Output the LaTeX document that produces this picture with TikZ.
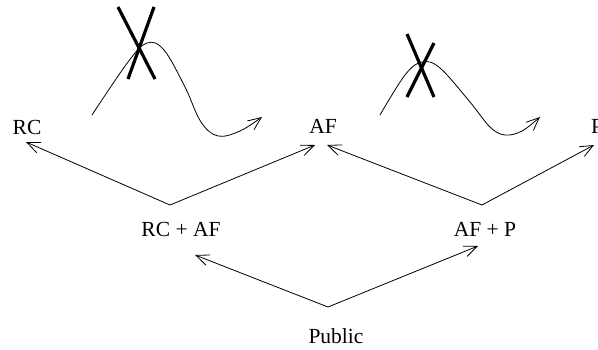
\documentclass[tikz,border=0pt]{standalone}
\usepackage{fontspec}
\setmainfont{Liberation Serif}
\usetikzlibrary{arrows.meta}
\tikzset{
  lbl/.style={inner sep=0pt, font=\fontsize{21.5}{25}\selectfont},
  arr/.style={line width=0.8pt, -{Straight Barb[length=13pt,width=11pt,line width=0.8pt]}},
  crossbar/.style={line width=3.2pt},
  wave/.style={line width=0.8pt, -{Straight Barb[length=13pt,width=11pt,line width=0.8pt]}}
}
\begin{document}
\begin{tikzpicture}[x=1pt,y=-1pt]
\useasboundingbox (0,0) rectangle (598,349);

% labels
\node[lbl] (rc)   at (27,127)  {RC};
\node[lbl] (af)   at (323,126) {AF};
\node[lbl,anchor=west] (p) at (591,126) {P};
\node[lbl] (rcaf) at (181,229) {RC + AF};
\node[lbl] (afp)  at (485,229) {AF + P};
\node[lbl] (pub)  at (336,336) {Public};

% arrow start and end points
\coordinate (rcafTop) at (170,205);
\coordinate (afpTop)  at (482,205);
\coordinate (pubTop)  at (328,307);
\coordinate (rcIn)    at (26,142);
\coordinate (afInL)   at (315,145);
\coordinate (afInR)   at (327,145);
\coordinate (pIn)     at (594,145);
\coordinate (rcafIn)  at (195,255);
\coordinate (afpIn)   at (478,246);

\draw[arr] (rcafTop) -- (rcIn);
\draw[arr] (rcafTop) -- (afInL);
\draw[arr] (afpTop) -- (afInR);
\draw[arr] (afpTop) -- (pIn);
\draw[arr] (pubTop) -- (rcafIn);
\draw[arr] (pubTop) -- (afpIn);

% left wave with cross
\draw[wave] plot[smooth, tension=0.6] coordinates
  {(92,115) (128,62) (147,43) (164,50) (185,87) (201,122) (218,136) (240,131) (262,117)};
\draw[crossbar] (118,7) -- (155,79);
\draw[crossbar] (154,7) -- (128,79);

% right wave with cross
\draw[wave] plot[smooth, tension=0.6] coordinates
  {(380,115) (405,75) (422,62) (440,68) (470,102) (490,127) (505,135) (522,131) (540,117)};
\draw[crossbar] (407,34) -- (434,97);
\draw[crossbar] (434,43) -- (407,97);
\end{tikzpicture}
\end{document}
